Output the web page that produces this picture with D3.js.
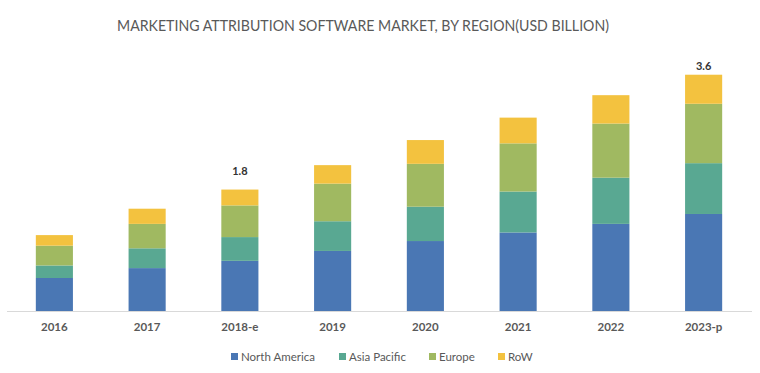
<!DOCTYPE html>
<html>
<head>
<meta charset="utf-8">
<script src="https://cdn.jsdelivr.net/npm/d3@7"></script>
<style>
  body { margin: 0; background: #fff; }
  svg { display: block; }
</style>
</head>
<body>
<div id="chart"></div>
<script>
let years = ['2016', '2017', '2018-e', '2019', '2020', '2021', '2022', '2023-p']
let regions = ['North America', 'Asia Pacific', 'Europe', 'RoW']
let northAmerica = [0.50, 0.65, 0.76, 0.91, 1.06, 1.19, 1.32, 1.47]
let asiaPacific = [0.19, 0.30, 0.36, 0.45, 0.52, 0.62, 0.70, 0.77]
let europe = [0.30, 0.37, 0.48, 0.57, 0.65, 0.73, 0.82, 0.90]
let row = [0.16, 0.23, 0.24, 0.28, 0.36, 0.39, 0.43, 0.44]
let totalLabels = {'2018-e': '1.8', '2023-p': '3.6'}
let colours = ['#4a77b4', '#59a892', '#a0b961', '#f3c23f']

let width = 760, height = 373

let svg = d3.select('#chart').append('svg')
  .attr('width', width)
  .attr('height', height)

// title
svg.append('text')
  .attr('x', 363)
  .attr('y', 31)
  .attr('text-anchor', 'middle')
  .attr('font-family', 'Lato, "Open Sans", sans-serif')
  .attr('font-size', 14.5)
  .attr('fill', '#595959')
  .attr('textLength', 492)
  .attr('lengthAdjust', 'spacingAndGlyphs')
  .text('MARKETING ATTRIBUTION SOFTWARE MARKET, BY REGION(USD BILLION)')

let table = years.map(function(y, i){
  return {year: y, 'North America': northAmerica[i], 'Asia Pacific': asiaPacific[i], 'Europe': europe[i], 'RoW': row[i]}
})

let stacked = d3.stack().keys(regions)(table)

let x = d3.scaleBand()
  .domain(years)
  .range([8, 750])
  .paddingInner(0.6)
  .paddingOuter(0.3)

let y = d3.scaleLinear()
  .domain([0, 4])
  .range([311, 47])

// bars
svg.selectAll('g.layer')
  .data(stacked)
  .enter()
  .append('g')
  .attr('class', 'layer')
  .attr('fill', function(d, i){ return colours[i] })
  .selectAll('rect')
  .data(function(d){ return d })
  .enter()
  .append('rect')
  .attr('x', function(d){ return x(d.data.year) })
  .attr('width', x.bandwidth())
  .attr('y', function(d){ return y(d[1]) })
  .attr('height', function(d){ return y(d[0]) - y(d[1]) })

// baseline
svg.append('line')
  .attr('x1', 7)
  .attr('x2', 752)
  .attr('y1', y(0) + 0.5)
  .attr('y2', y(0) + 0.5)
  .attr('stroke', '#d9d9d9')
  .attr('stroke-width', 1)

// x axis
let xAxis = svg.append('g')
  .attr('transform', 'translate(0,' + y(0) + ')')
  .call(d3.axisBottom(x).tickSize(0).tickPadding(12))
xAxis.select('.domain').remove()
xAxis.selectAll('text')
  .attr('font-family', 'Lato, "Open Sans", sans-serif')
  .attr('font-size', 11.5)
  .attr('font-weight', 'bold')
  .attr('fill', '#595959')

// total labels (the source sets them at different heights above the bars)
let labelGap = {'2018-e': 15, '2023-p': 5}
let topLayer = stacked[stacked.length - 1]
svg.selectAll('text.total')
  .data(topLayer.filter(function(d){ return totalLabels[d.data.year] }))
  .enter()
  .append('text')
  .attr('class', 'total')
  .attr('x', function(d){ return x(d.data.year) + x.bandwidth() / 2 })
  .attr('y', function(d){ return y(d[1]) - labelGap[d.data.year] })
  .attr('text-anchor', 'middle')
  .attr('font-family', 'Lato, "Open Sans", sans-serif')
  .attr('font-size', 11)
  .attr('font-weight', 'bold')
  .attr('fill', '#333')
  .text(function(d){ return totalLabels[d.data.year] })

// legend
let legendX = [231, 339, 429, 498]
let legend = svg.selectAll('g.legend')
  .data(regions)
  .enter()
  .append('g')
  .attr('class', 'legend')
  .attr('transform', function(d, i){ return 'translate(' + legendX[i] + ',357)' })
legend.append('rect')
  .attr('x', 0)
  .attr('y', -4)
  .attr('width', 7)
  .attr('height', 7)
  .attr('fill', function(d, i){ return colours[i] })
legend.append('text')
  .attr('x', 10)
  .attr('y', 4)
  .attr('font-family', 'Lato, "Open Sans", sans-serif')
  .attr('font-size', 11.5)
  .attr('fill', '#595959')
  .text(function(d){ return d })
</script>
</body>
</html>
